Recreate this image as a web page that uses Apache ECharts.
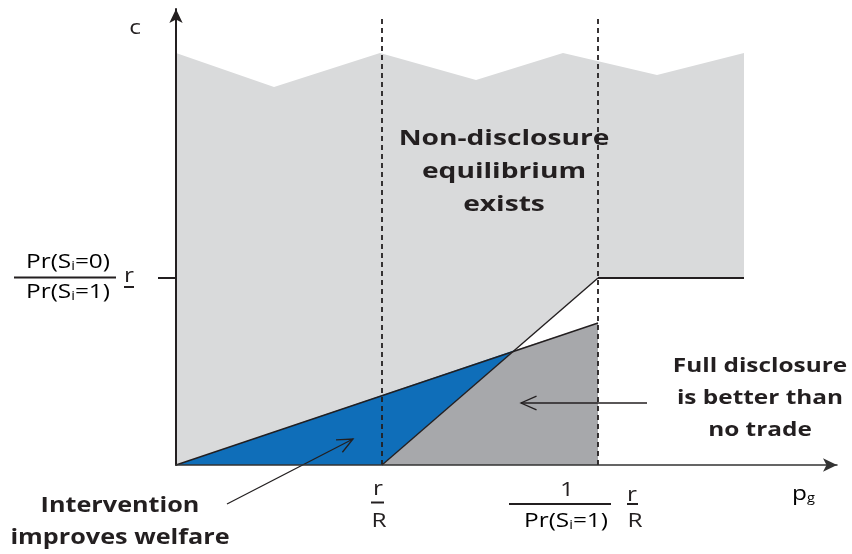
<!DOCTYPE html>
<html><head><meta charset="utf-8">
<script src="https://cdn.jsdelivr.net/npm/echarts@6/dist/echarts.min.js"></script>
<style>html,body{margin:0;padding:0;background:#fff}#c{width:852px;height:554px}</style>
</head><body><div id="c"></div>
<script>
// ---- data (abstract units; origin at the axes' crossing) ----
const grayRegion = [[0,0],[339,115],[422,187],[568,187],[568,412],[481,390],[387,412],[300,385],[204,412],[98,378],[0,412]];
const blueRegion = [[0,0],[339,115],[206,0]];
const darkRegion = [[206,0],[339,115],[422,142],[422,0]];
const fullDisclosureLine = [[0,0],[422,142]];
const steepLine = [[206,0],[422,187]];
const flatLine = [[422,187],[568,187]];
const thresholdX = [206, 422];
const dashTop = 446;
const cLevel = 187;
const arrowFull = [[471,62],[345,62]];
const arrowIntervention = [[51,-39],[177,26]];

const INK = '#231f20';
const chart = echarts.init(document.getElementById('c'));

function poly(pts, color, z){
  return {type:'custom', coordinateSystem:'cartesian2d', clip:false, z:z, silent:true,
    data:[[pts[0][0], pts[0][1]]],
    renderItem:(params, api)=>({type:'polygon', shape:{points: pts.map(p=>api.coord(p))}, style:{fill:color}})
  };
}
function arrow(pts){
  return {type:'custom', coordinateSystem:'cartesian2d', clip:false, z:6, silent:true,
    data:[[pts[1][0], pts[1][1]]],
    renderItem:(params, api)=>{
      const a = api.coord(pts[0]), b = api.coord(pts[1]);
      const ang = Math.atan2(b[1]-a[1], b[0]-a[0]);
      const L = 17, w = 0.42;
      const p1 = [b[0]-L*Math.cos(ang-w), b[1]-L*Math.sin(ang-w)];
      const p2 = [b[0]-L*Math.cos(ang+w), b[1]-L*Math.sin(ang+w)];
      return {type:'group', children:[
        {type:'line', shape:{x1:a[0],y1:a[1],x2:b[0],y2:b[1]}, style:{stroke:INK, lineWidth:1.3}},
        {type:'polyline', shape:{points:[p1,b,p2]}, style:{stroke:INK, lineWidth:1.3, fill:null}}
      ]};
    }
  };
}
function line(data, width, dashed, z){
  return {type:'line', data:data, symbol:'none', silent:true, z:z, clip:false,
    lineStyle:{color:INK, width:width, type: dashed ? [5,4] : 'solid'}};
}

const FONT = '"Open Sans", sans-serif';
const subRich = {
  a:{fontSize:20, fontFamily:FONT, color:INK},
  s:{fontSize:12, fontFamily:FONT, color:INK, padding:[9,0,0,0]}
};
function txt(x, y, text, size, bold, lh, sx){
  return {type:'text', x:x, y:y, z:20, silent:true, scaleX: sx || 1.22, style:{text:text, fill:INK,
    font:(bold?'bold ':'')+size+'px '+FONT, textAlign:'center', textVerticalAlign:'middle', lineHeight:lh||size}};
}
function rtxt(x, y, text, align){
  return {type:'text', x:x, y:y, z:20, silent:true, scaleX:1.22, style:{text:text, rich:subRich, textAlign:align||'center', textVerticalAlign:'middle'}};
}
function bar(x1, x2, y, w){
  return {type:'line', z:20, silent:true, shape:{x1:x1, y1:y, x2:x2, y2:y}, style:{stroke:INK, lineWidth:w||2}};
}

chart.setOption({
  animation:false,
  grid:{left:176, right:15, top:9, bottom:89},
  xAxis:{type:'value', min:0, max:661, z:10,
    axisLine:{show:true, symbol:['none','arrow'], symbolSize:[10,14], lineStyle:{color:'#333', width:1.5}},
    axisTick:{show:false}, axisLabel:{show:false}, splitLine:{show:false}},
  yAxis:{type:'value', min:0, max:456, z:10,
    axisLine:{show:true, symbol:['none','arrow'], symbolSize:[10,14], lineStyle:{color:INK, width:2}},
    axisTick:{show:true, customValues:[cLevel], length:18, lineStyle:{color:INK, width:2}},
    axisLabel:{show:false}, splitLine:{show:false}},
  series:[
    poly(grayRegion, '#d9dadb', 1),
    poly(blueRegion, '#0f6eb9', 2),
    poly(darkRegion, '#a7a8ab', 2),
    line(fullDisclosureLine, 1.4, false, 4),
    line(steepLine, 1.4, false, 4),
    line(flatLine, 2.2, false, 4),
    line([[thresholdX[0],0],[thresholdX[0],dashTop]], 1.8, true, 5),
    line([[thresholdX[1],0],[thresholdX[1],dashTop]], 1.8, true, 5),
    arrow(arrowFull),
    arrow(arrowIntervention)
  ],
  graphic:[
    txt(504, 172, 'Non-disclosure\nequilibrium\nexists', 22, true, 33, 1.28),
    txt(760, 398, 'Full disclosure\nis better than\nno trade', 20, true, 32, 1.22),
    txt(120, 522, 'Intervention\nimproves welfare', 21, true, 32, 1.2),
    txt(135, 28, 'c', 20, false),
    rtxt(792, 494, '{a|p}{s|g}', 'left'),
    // y label
    rtxt(68, 262, '{a|Pr(S}{s|i}{a|=0)}'),
    bar(14, 116, 277.5),
    rtxt(68, 292, '{a|Pr(S}{s|i}{a|=1)}'),
    txt(129, 276, 'r', 20, false),
    bar(124, 134, 287),
    // x label r/R
    txt(378, 489, 'r', 20, false),
    bar(371, 384, 502.5),
    txt(379, 521, 'R', 20, false),
    // x label 1/Pr(Si=1) r/R
    txt(567, 490, '1', 20, false),
    bar(509, 611, 504),
    rtxt(566, 521, '{a|Pr(S}{s|i}{a|=1)}'),
    txt(632, 495, 'r', 20, false),
    bar(627, 638, 504),
    txt(635, 521, 'R', 20, false)
  ]
});
</script></body></html>
